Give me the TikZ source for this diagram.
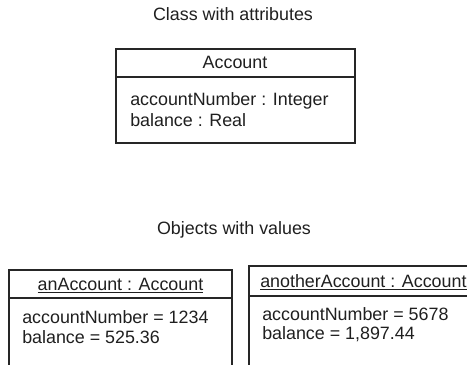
\documentclass[tikz,border=0pt]{standalone}
\usepackage{fontspec}
\setmainfont{Liberation Sans}
\begin{document}
\begin{tikzpicture}[x=0.75pt,y=-0.75pt]
\tikzstyle{every node}+=[inner sep=0pt, font=\fontsize{13.4}{16}\selectfont, text=black!88]
\tikzstyle{umlline}=[black!85, line width=1.1pt]
\useasboundingbox (0,0) rectangle (467,364);
\clip (0,0) rectangle (467,364);
% class
\draw (233,21) node [anchor=base] (classtitle) {Class with attributes};
\draw [umlline] (116,49) rectangle (355,143);
\draw [umlline] (116,77) -- (355,77);
\draw (235,68) node [anchor=base] (classname) {Account};
\draw (130,105) node [anchor=base west] (attrnumber) {accountNumber : Integer};
\draw (130,126) node [anchor=base west] (attrbalance) {balance : Real};
% objects
\draw (234,234) node [anchor=base] (objtitle) {Objects with values};
\draw [umlline] (9,380) -- (9,270) -- (232,270) -- (232,380);
\draw [umlline] (9,298) -- (232,298);
\draw (120.5,290) node [anchor=base] (objonename) {\underline{anAccount : Account}};
\draw (22,323) node [anchor=base west] (objonenumber) {accountNumber = 1234};
\draw (22,343) node [anchor=base west] (objonebalance) {balance = 525.36};
\draw [umlline] (249,380) -- (249,266) -- (480,266);
\draw [umlline] (249,296) -- (480,296);
\draw (260,287) node [anchor=base west] (objtwoname) {\underline{anotherAccount : Account}};
\draw (262,320) node [anchor=base west] (objtwonumber) {accountNumber = 5678};
\draw (262,339) node [anchor=base west] (objtwobalance) {balance = 1,897.44};
\end{tikzpicture}
\end{document}
